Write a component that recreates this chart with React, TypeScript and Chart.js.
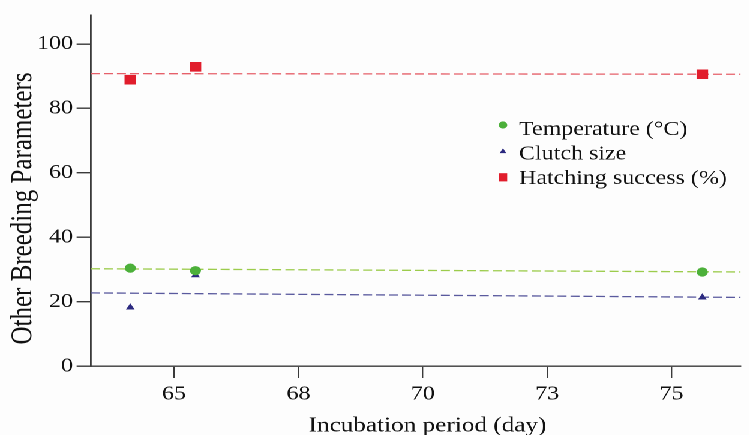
import React, { useEffect, useRef } from 'react';
import { Chart, registerables } from 'chart.js';

Chart.register(...registerables);

// ---- data ----
const incubationDays = [64.12, 65.43, 75.62];
const temperature = [30.4, 29.6, 29.2];
const clutchSize = [18.2, 28.2, 21.3];
const hatchingSuccess = [88.9, 92.9, 90.6];

const trendX = [63.33, 76.39];
const temperatureTrend = [30.2, 29.2];
const clutchTrend = [22.7, 21.3];
const hatchingTrend = [90.8, 90.6];

const xTickValues = [65, 67.5, 70, 72.5, 75];
const xTickLabels = ['65', '68', '70', '73', '75'];
const yTickValues = [0, 20, 40, 60, 80, 100];

const seriesNames = ['Temperature (°C)', 'Clutch size', 'Hatching success (%)'];
const xTitle = 'Incubation period (day)';
const yTitle = 'Other Breeding Parameters';

// ---- style ----
const SX = 1.2; // horizontal stretch of the reference image
const W = 749 / SX;
const H = 435;
const FONT = "'Liberation Serif', 'Times New Roman', serif";
const TEXT = '#111111';
const AXIS = '#3a3a3a';
const GREEN = '#4cb03a';
const GREEN_LINE = '#9ccc4c';
const BLUE = '#2c2a80';
const BLUE_LINE = '#5a5a9e';
const RED = '#e11d2c';
const RED_LINE = '#e6606a';

const pts = (xs: number[], ys: number[]) => xs.map((x, i) => ({ x, y: ys[i] }));

const decorPlugin = {
  id: 'decor',
  beforeDraw(chart: any) {
    const ctx = chart.ctx;
    ctx.save();
    ctx.fillStyle = '#fdfdfd';
    ctx.fillRect(0, 0, chart.width, chart.height);
    ctx.restore();
  },
  afterDraw(chart: any) {
    const ctx = chart.ctx;
    ctx.save();
    ctx.fillStyle = TEXT;
    // x title
    ctx.font = `21px ${FONT}`;
    ctx.textAlign = 'center';
    ctx.textBaseline = 'alphabetic';
    ctx.fillText(xTitle, 427.5 / SX, 431.5);
    // y title
    ctx.save();
    ctx.translate(26.5 / SX + 4, 208.5);
    ctx.rotate(-Math.PI / 2);
    ctx.font = `25px ${FONT}`;
    ctx.textAlign = 'center';
    ctx.textBaseline = 'alphabetic';
    ctx.fillText(yTitle, 0, 0);
    ctx.restore();

    // legend
    const mx = 503 / SX;
    const tx = 519 / SX;
    const baselines = [135, 159.5, 184];
    const markerY = [125, 151.5, 177.3];
    ctx.font = `20px ${FONT}`;
    ctx.textAlign = 'left';
    ctx.textBaseline = 'alphabetic';
    seriesNames.forEach((name, i) => {
      ctx.fillStyle = TEXT;
      ctx.fillText(name, tx, baselines[i]);
      const y = markerY[i];
      if (i === 0) {
        ctx.fillStyle = GREEN;
        ctx.beginPath();
        ctx.arc(mx, y, 3.6, 0, Math.PI * 2);
        ctx.fill();
      } else if (i === 1) {
        ctx.fillStyle = BLUE;
        const r = 3.2;
        ctx.beginPath();
        ctx.moveTo(mx, y - r);
        ctx.lineTo(mx + r * 0.866, y + r * 0.5);
        ctx.lineTo(mx - r * 0.866, y + r * 0.5);
        ctx.closePath();
        ctx.fill();
      } else {
        ctx.fillStyle = RED;
        ctx.fillRect(mx - 3.5, y - 4.1, 7, 8.2);
      }
    });
    ctx.restore();
  },
};

export default function App() {
  const ref = useRef<HTMLCanvasElement | null>(null);

  useEffect(() => {
    let chart: any = null;
    let cancelled = false;

    const build = () => {
      if (cancelled || !ref.current) return;
      chart = new Chart(ref.current, {
        type: 'scatter',
        data: {
          datasets: [
            {
              label: seriesNames[0],
              data: pts(incubationDays, temperature),
              pointStyle: 'circle',
              pointRadius: 4.6,
              backgroundColor: GREEN,
              borderColor: GREEN,
              borderWidth: 0,
              order: 0,
            },
            {
              label: seriesNames[1],
              data: pts(incubationDays, clutchSize),
              pointStyle: 'triangle',
              pointRadius: 4.2,
              backgroundColor: BLUE,
              borderColor: BLUE,
              borderWidth: 0,
              order: 0,
            },
            {
              label: seriesNames[2],
              data: pts(incubationDays, hatchingSuccess),
              pointStyle: 'rect',
              pointRadius: 6.8,
              backgroundColor: RED,
              borderColor: RED,
              borderWidth: 0,
              order: 0,
            },
            {
              label: 'temperature trend',
              data: pts(trendX, temperatureTrend),
              showLine: true,
              pointRadius: 0,
              borderColor: GREEN_LINE,
              borderWidth: 1.3,
              borderDash: [7.5, 3.3],
              order: 1,
            },
            {
              label: 'clutch trend',
              data: pts(trendX, clutchTrend),
              showLine: true,
              pointRadius: 0,
              borderColor: BLUE_LINE,
              borderWidth: 1.3,
              borderDash: [7.5, 3.3],
              order: 1,
            },
            {
              label: 'hatching trend',
              data: pts(trendX, hatchingTrend),
              showLine: true,
              pointRadius: 0,
              borderColor: RED_LINE,
              borderWidth: 1.3,
              borderDash: [7.5, 3.3],
              order: 1,
            },
          ],
        },
        options: {
          animation: false,
          responsive: false,
          devicePixelRatio: 2,
          layout: { padding: { top: 14, left: 0, right: 0, bottom: 0 } },
          plugins: {
            legend: { display: false },
            tooltip: { enabled: false },
            title: { display: false },
          },
          scales: {
            x: {
              type: 'linear',
              min: trendX[0],
              max: trendX[1],
              afterBuildTicks: (axis: any) => {
                axis.ticks = xTickValues.map((v) => ({ value: v }));
              },
              afterFit: (axis: any) => {
                axis.height = 69;
              },
              ticks: {
                callback: (v: any) => xTickLabels[xTickValues.indexOf(Number(v))] ?? '',
                color: TEXT,
                font: { family: FONT, size: 20, lineHeight: 1.2 },
                padding: 4,
                maxRotation: 0,
                autoSkip: false,
              },
              grid: {
                display: true,
                drawOnChartArea: false,
                drawTicks: true,
                tickLength: 12,
                color: AXIS,
                lineWidth: 1.2,
              },
              border: { display: true, color: AXIS, width: 1.4 },
            },
            y: {
              type: 'linear',
              min: 0,
              max: 109,
              afterBuildTicks: (axis: any) => {
                axis.ticks = yTickValues.map((v) => ({ value: v }));
              },
              afterFit: (axis: any) => {
                axis.width = 91 / SX;
              },
              ticks: {
                callback: (v: any) => String(v),
                color: TEXT,
                font: { family: FONT, size: 20, lineHeight: 1.2 },
                padding: 3,
                autoSkip: false,
              },
              grid: {
                display: true,
                drawOnChartArea: false,
                drawTicks: true,
                tickLength: 12,
                color: AXIS,
                lineWidth: 1.4,
              },
              border: { display: true, color: AXIS, width: 1.4 },
            },
          },
        } as any,
        plugins: [decorPlugin],
      });
    };

    const fonts: any = (document as any).fonts;
    if (fonts && fonts.load) {
      Promise.all([
        fonts.load("20px 'Liberation Serif'", '0123456789 Temperature (°C)'),
        fonts.load("25px 'Liberation Serif'", 'Other Breeding Parameters'),
      ])
        .catch(() => null)
        .then(build);
    } else {
      build();
    }

    return () => {
      cancelled = true;
      if (chart) chart.destroy();
    };
  }, []);

  return (
    <div
      style={{
        position: 'absolute',
        left: 0,
        top: 0,
        width: W,
        height: H,
        transform: `scaleX(${SX})`,
        transformOrigin: '0 0',
        background: '#fdfdfd',
        fontFamily: FONT,
      }}
    >
      <canvas ref={ref} width={W} height={H} style={{ display: 'block' }} />
    </div>
  );
}
